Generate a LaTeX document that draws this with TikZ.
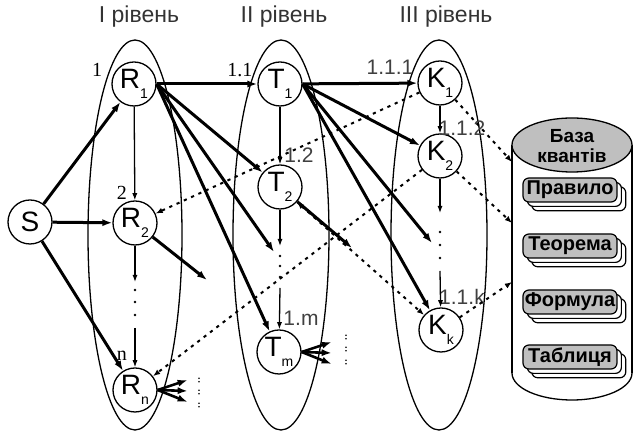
\documentclass[tikz,border=0pt]{standalone}
\usepackage{fontspec}
\setmainfont{Liberation Sans}
\newfontfamily\numserif{Liberation Serif}
\usetikzlibrary{arrows.meta,shadows}
\tikzset{
  lvl/.style={draw=black, line width=0.65pt},
  vertex/.style={draw=black, circle, line width=0.65pt, minimum size=22pt, inner sep=0pt, font=\fontsize{14}{14}\selectfont},
  arrow/.style={-{Latex[length=5pt,width=3.6pt]}, line width=1.5pt},
  thinarrow/.style={-{Latex[length=3.6pt,width=2.6pt]}, line width=0.65pt},
  dotarrow/.style={-{Latex[length=3.6pt,width=2.8pt]}, line width=1pt, dash pattern=on 1.6pt off 2.4pt},
  levtitle/.style={font=\fontsize{11.5}{12}\selectfont, text=black!80},
  numlabel/.style={font=\numserif\fontsize{10}{10}\selectfont},
  steplabel/.style={font=\fontsize{10.5}{10.5}\selectfont, text=black!75},
  quant/.style={draw=black, fill=black!25, rounded corners=3pt, line width=0.6pt, minimum width=47pt, minimum height=12pt, inner sep=0.5pt, font=\bfseries\fontsize{10}{10}\selectfont,
    double copy shadow={shadow xshift=2.2pt, shadow yshift=-2.2pt, fill=white, draw=black, line width=0.6pt}}
}
\newcommand{\lowix}[1]{\raisebox{-0.7ex}{\fontsize{7}{7}\selectfont #1}}

\begin{document}
\begin{tikzpicture}[x=0.5pt, y=-0.5pt]
\useasboundingbox (0,0) rectangle (634,432);

% levels
\node[levtitle] (lev1) at (139,17) {I рівень};
\node[levtitle] (lev2) at (284,17) {II рівень};
\node[levtitle] (lev3) at (446,17) {III рівень};
\draw[lvl] (135,235) ellipse [x radius=47, y radius=195];
\draw[lvl] (281,235) ellipse [x radius=48, y radius=195];
\draw[lvl] (439,235) ellipse [x radius=48, y radius=195];

% knowledge base
\draw[line width=0.65pt, fill=white] (572,373) ellipse [x radius=60, y radius=27];
\fill[white] (512,145) rectangle (632,373);
\draw[line width=0.65pt] (512,145) -- (512,373);
\draw[line width=0.65pt] (632,145) -- (632,373);
\draw[line width=0.65pt, fill=black!25] (572,145) ellipse [x radius=60, y radius=27];
\node[font=\bfseries\fontsize{9.5}{10}\selectfont, align=center] (base) at (572,146) {База\\квантів};
\node[quant] (rule) at (570,190) {Правило};
\node[quant] (theorem) at (570,246) {Теорема};
\node[quant] (formula) at (570,302) {Формула};
\node[quant] (table) at (570,357) {Таблиця};
\coordinate (b1) at (512,162);
\coordinate (b2) at (512,223);
\coordinate (b3) at (512,282);

% vertices
\node[vertex] (S) at (30,222) {S};
\node[vertex] (R1) at (134,84) {R\lowix{1}};
\node[vertex] (R2) at (135,223) {R\lowix{2}};
\node[vertex] (Rn) at (135,390) {R\lowix{n}};
\node[vertex] (T1) at (280,84) {T\lowix{1}};
\node[vertex] (T2) at (280,187) {T\lowix{2}};
\node[vertex] (Tm) at (279,352) {T\lowix{m}};
\node[vertex] (K1) at (440,83) {K\lowix{1}};
\node[vertex] (K2) at (440,156) {K\lowix{2}};
\node[vertex] (Kk) at (441,330) {K\lowix{k}};

% labels
\node[numlabel] (n1) at (97,70) {1};
\node[numlabel] (n2) at (122,193) {2};
\node[numlabel] (nn) at (122,356) {n};
\node[numlabel] (n11) at (240,70) {1.1};
\node[steplabel] (n12) at (299,155) {1.2};
\node[steplabel] (n1m) at (301,318) {1.m};
\node[steplabel] (n111) at (390,67) {1.1.1};
\node[steplabel] (n112) at (462,128) {1.1.2};
\node[steplabel] (n11k) at (462,297) {1.1.k};

% free ends
\coordinate (tdots) at (274,252);
\coordinate (kdots) at (432,243);
\coordinate (r2out) at (207,280);
\coordinate (t2out) at (352,248);
\coordinate (rdown) at (135,282);
\coordinate (rup) at (135,328);
\coordinate (tdown) at (280,246);
\coordinate (tup) at (280,288);
\coordinate (kdown) at (440,213);
\coordinate (kup) at (440,271);

% thick links
\draw[arrow] (S) -- (R1);
\draw[arrow] (S) -- (R2);
\draw[arrow] (S) -- (Rn);
\draw[arrow] (R1) -- (T1);
\draw[arrow] (R1.east) -- (T2);
\draw[arrow] (R1.east) -- (tdots);
\draw[arrow] (R1.east) -- (Tm);
\draw[arrow] (R2) -- (r2out);
\draw[arrow] (T1) -- (K1);
\draw[arrow] (T1.east) -- (K2);
\draw[arrow] (T1.east) -- (kdots);
\draw[arrow] (T1.east) -- (Kk);
\draw[arrow] (T2) -- (t2out);
\foreach \dy in {-10,1,12} {
  \draw[arrow, line width=1.3pt] (Rn.east) -- ++(30,\dy);
  \draw[arrow, line width=1.3pt] (Tm.east) -- ++(30,\dy);
}
\foreach \y in {380,392,405} {
  \fill (199,\y-1.8) circle [radius=0.9];
  \fill (199,\y+1.8) circle [radius=0.9];
}
\foreach \y in {337,349,362} {
  \fill (346,\y-1.8) circle [radius=0.9];
  \fill (346,\y+1.8) circle [radius=0.9];
}

% columns
\draw[thinarrow] (R1) -- (R2);
\draw[thinarrow] (R2) -- (rdown);
\draw[thinarrow] (rup) -- (Rn);
\draw[thinarrow] (T1) -- (T2);
\draw[thinarrow] (T2) -- (tdown);
\draw[thinarrow] (tup) -- (Tm);
\draw[thinarrow] (K1) -- (K2);
\draw[thinarrow] (K2) -- (kdown);
\draw[thinarrow] (kup) -- (Kk);
\foreach \y in {290,302,315} \fill (135,\y) circle [radius=1.3];
\foreach \y in {256,266,277} \fill (280,\y) circle [radius=1.3];
\foreach \y in {232,245,258} \fill (440,\y) circle [radius=1.3];

% back links
\draw[dotarrow] (K1) -- (R2);
\draw[dotarrow] (K2) -- (Rn);
\draw[dotarrow, {Latex[length=3.6pt,width=2.8pt]}-{Latex[length=3.6pt,width=2.8pt]}] (T2) -- (Kk);
\draw[dotarrow] (K1) -- (b1);
\draw[dotarrow] (K2) -- (b2);
\draw[dotarrow] (Kk) -- (b3);
\end{tikzpicture}
\end{document}
